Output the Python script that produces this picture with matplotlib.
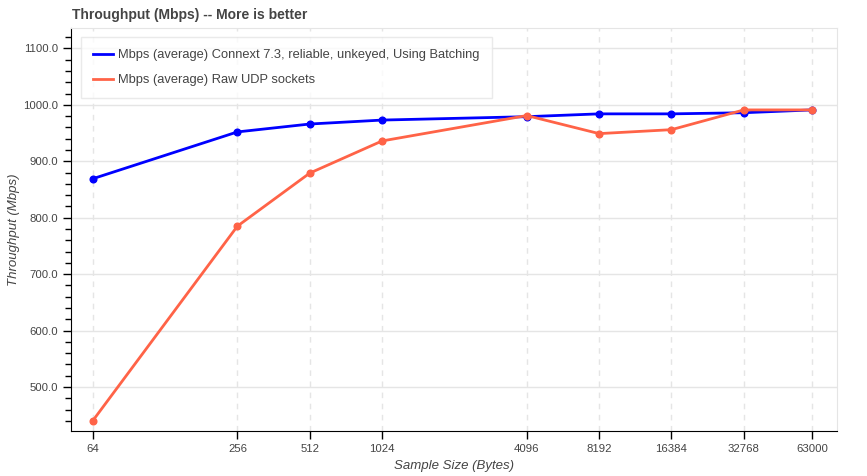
import matplotlib
matplotlib.use("Agg")
import matplotlib.pyplot as plt
from matplotlib.ticker import FixedLocator, MultipleLocator, FormatStrFormatter, NullLocator

plt.rcParams['font.family'] = ['Liberation Sans', 'DejaVu Sans']

sizes = [64, 256, 512, 1024, 4096, 8192, 16384, 32768, 63000]
size_labels = ["64", "256", "512", "1024", "4096", "8192", "16384", "32768", "63000"]
connext_mbps = [869, 952, 966, 973, 979, 984, 984, 986, 991]
udp_mbps = [440, 785, 879, 936, 981, 949, 956, 991, 991]

fig = plt.figure(figsize=(8.67, 4.76), dpi=100)
ax = fig.add_axes([0.0819, 0.0945, 0.8835, 0.8465])

ax.plot(sizes, connext_mbps, color="#0000ff", lw=2, marker="o", ms=4.8,
        label="Mbps (average) Connext 7.3, reliable, unkeyed, Using Batching")
ax.plot(sizes, udp_mbps, color="#ff6347", lw=2, marker="o", ms=4.8,
        label="Mbps (average) Raw UDP sockets")

ax.set_xscale("log")
ax.set_xlim(52, 80000)
ax.set_ylim(422, 1136)

ax.xaxis.set_major_locator(FixedLocator(sizes))
ax.xaxis.set_minor_locator(NullLocator())
ax.set_xticklabels(size_labels)
ax.yaxis.set_major_locator(MultipleLocator(100))
ax.yaxis.set_minor_locator(MultipleLocator(20))
ax.yaxis.set_major_formatter(FormatStrFormatter("%.1f"))

ax.grid(axis="y", which="major", color="#e5e5e5", lw=1)
ax.grid(axis="x", which="major", color="#e5e5e5", lw=1, ls=(0, (4, 4)))
ax.set_axisbelow(True)

for side in ["top", "right"]:
    ax.spines[side].set_color("#e5e5e5")
for side in ["left", "bottom"]:
    ax.spines[side].set_color("black")

ax.tick_params(axis="both", which="major", direction="out", length=6, width=1,
               labelsize=8.2, labelcolor="#444444", color="black")
ax.tick_params(axis="y", which="minor", direction="out", length=4, width=1, color="black")

ax.set_xlabel("Sample Size (Bytes)", fontsize=9.5, fontstyle="italic", color="#444444")
ax.set_ylabel("Throughput (Mbps)", fontsize=9.5, fontstyle="italic", color="#444444")
ax.yaxis.set_label_coords(-0.066, 0.5)
fig.text(72 / 867, 1 - 15 / 476, "Throughput (Mbps) -- More is better", fontsize=10,
         fontweight="bold", color="#444444", va="center", ha="left")

leg = ax.legend(loc="upper left", bbox_to_anchor=(0.013, 0.978), borderaxespad=0,
                fontsize=9.3, frameon=True, fancybox=False, handlelength=1.55,
                borderpad=0.95, labelspacing=1.0, handletextpad=0.4)
leg.get_frame().set_edgecolor("#e5e5e5")
leg.get_frame().set_linewidth(1)
for h in leg.get_lines():
    h.set_marker("")
for t in leg.get_texts():
    t.set_color("#444444")

fig.savefig("out.png", dpi=100)
